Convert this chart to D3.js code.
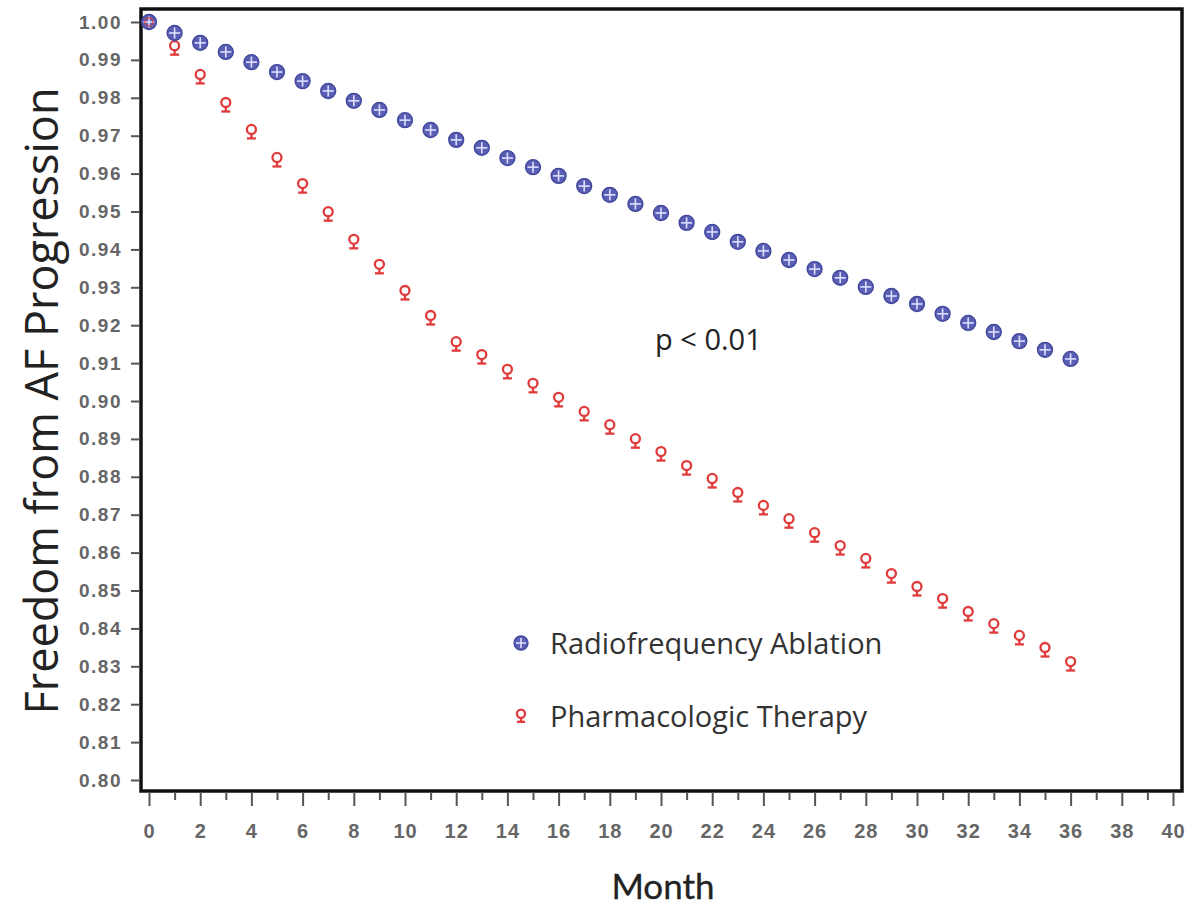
<!DOCTYPE html>
<html><head><meta charset="utf-8">
<script src="https://cdn.jsdelivr.net/npm/d3@7"></script>
<style>body{margin:0;background:#fff}</style>
</head><body>
<svg id="c" width="1186" height="908"></svg>
<script>
const months = d3.range(0, 37);
const rfaValues = [1.000,0.9971,0.9945,0.9921,0.9894,0.9868,0.9844,0.9818,0.9792,0.9768,0.9741,0.9715,0.9689,0.9668,0.9641,0.9617,0.9594,0.9567,0.9544,0.9520,0.9496,0.9470,0.9446,0.9420,0.9396,0.9372,0.9348,0.9325,0.9301,0.9277,0.9256,0.9230,0.9206,0.9182,0.9158,0.9135,0.9111];
const pharmValues = [1.000,0.9931,0.9855,0.9781,0.9710,0.9636,0.9567,0.9493,0.9420,0.9354,0.9285,0.9219,0.9150,0.9116,0.9077,0.9040,0.9003,0.8966,0.8931,0.8894,0.8860,0.8823,0.8789,0.8752,0.8718,0.8683,0.8646,0.8612,0.8578,0.8538,0.8504,0.8472,0.8438,0.8406,0.8375,0.8343,0.8306];
const yTicks = d3.range(0, 21).map(i => +(0.80 + i*0.01).toFixed(2));
const xTicks = d3.range(0, 41, 2);
const xMinor = d3.range(1, 40, 2);
const seriesNames = ["Radiofrequency Ablation", "Pharmacologic Therapy"];

const svg = d3.select("#c");
const x = d3.scaleLinear().domain([0, 40]).range([149, 1173]);
const y = d3.scaleLinear().domain([0.80, 1.00]).range([780, 22]);
const frame = {l:141, t:9, r:1182, b:791};

// frame
svg.append("rect").attr("x", frame.l).attr("y", frame.t).attr("width", frame.r-frame.l).attr("height", frame.b-frame.t)
  .attr("fill","none").attr("stroke","#111").attr("stroke-width",3.5);

const tickFont = "Liberation Sans, Arial, sans-serif";
// y axis
const yAxis = d3.axisLeft(y).tickValues(yTicks).tickFormat(d3.format(".2f")).tickSize(8).tickPadding(9);
const gy = svg.append("g").attr("transform", `translate(${frame.l-2},0)`).call(yAxis);
gy.select(".domain").remove();
gy.selectAll("line").attr("stroke","#555").attr("stroke-width",2);
gy.selectAll("text").attr("fill","#666").style("font-family",tickFont).style("font-size","19px").style("font-weight","bold").style("letter-spacing","1.5px");

// x axis
const xAxis = d3.axisBottom(x).tickValues(xTicks).tickFormat(d3.format("d")).tickSize(14).tickPadding(18);
const gx = svg.append("g").attr("transform", `translate(0,${frame.b+1})`).call(xAxis);
gx.select(".domain").remove();
gx.selectAll("line").attr("stroke","#555").attr("stroke-width",2);
gx.selectAll("text").attr("fill","#666").style("font-family",tickFont).style("font-size","20px").style("font-weight","bold").style("letter-spacing","1px");
const gxm = svg.append("g").attr("transform", `translate(0,${frame.b+1})`).call(d3.axisBottom(x).tickValues(xMinor).tickSize(8).tickFormat(""));
gxm.select(".domain").remove();
gxm.selectAll("line").attr("stroke","#555").attr("stroke-width",2);

// markers
function blueMarker(g, cx, cy, r) {
  g.append("circle").attr("cx",cx).attr("cy",cy).attr("r",r).attr("fill","#5a5fb6").attr("stroke","#41469a").attr("stroke-width",1.3);
  g.append("line").attr("x1",cx-r+2).attr("x2",cx+r-2).attr("y1",cy).attr("y2",cy).attr("stroke","#dfe0ff").attr("stroke-width",1.6);
  g.append("line").attr("x1",cx).attr("x2",cx).attr("y1",cy-r+2).attr("y2",cy+r-2).attr("stroke","#dfe0ff").attr("stroke-width",1.6);
}
function redMarker(g, cx, cy, s) {
  g.append("circle").attr("cx",cx).attr("cy",cy-2.5*s).attr("r",4.5*s).attr("fill","#fff").attr("stroke","#e03a3a").attr("stroke-width",2.3);
  g.append("line").attr("x1",cx).attr("x2",cx).attr("y1",cy+2*s).attr("y2",cy+7*s).attr("stroke","#e03a3a").attr("stroke-width",2.3);
  g.append("line").attr("x1",cx-4.5*s).attr("x2",cx+4.5*s).attr("y1",cy+6.5*s).attr("y2",cy+6.5*s).attr("stroke","#e03a3a").attr("stroke-width",2.3);
}

const gp = svg.append("g");
months.forEach((m,i) => { if (i>0) redMarker(gp, x(m), y(pharmValues[i]), 1); });
months.forEach((m,i) => blueMarker(gp, x(m), y(rfaValues[i]), 7.5));
gp.append("circle").attr("cx",x(0)).attr("cy",y(pharmValues[0])).attr("r",4).attr("fill","none").attr("stroke","#e03a3a").attr("stroke-width",1.5).attr("opacity",0.8);

// annotation
svg.append("text").attr("x",655).attr("y",350).text("p < 0.01").attr("fill","#222").style("font-family","Open Sans, sans-serif").style("font-size","29px");

// legend
const lg = svg.append("g");
blueMarker(lg, 521, 643, 7);
redMarker(lg, 521, 716, 0.9);
lg.append("text").attr("x",550).attr("y",654).text(seriesNames[0]).attr("fill","#333").style("font-family","Open Sans, sans-serif").style("font-size","29px");
lg.append("text").attr("x",550).attr("y",727).text(seriesNames[1]).attr("fill","#333").style("font-family","Open Sans, sans-serif").style("font-size","29px");

// axis titles
svg.append("text").attr("transform","translate(58,401) rotate(-90)").attr("text-anchor","middle").text("Freedom from AF Progression")
  .attr("fill","#222").style("font-family","Open Sans, sans-serif").style("font-size","45px");
svg.append("text").attr("x",663).attr("y",899).attr("text-anchor","middle").text("Month")
  .attr("fill","#222").style("font-family","Lato, Open Sans, sans-serif").style("font-size","35px").style("stroke","#222").style("stroke-width",0.3);
</script>
</body></html>
